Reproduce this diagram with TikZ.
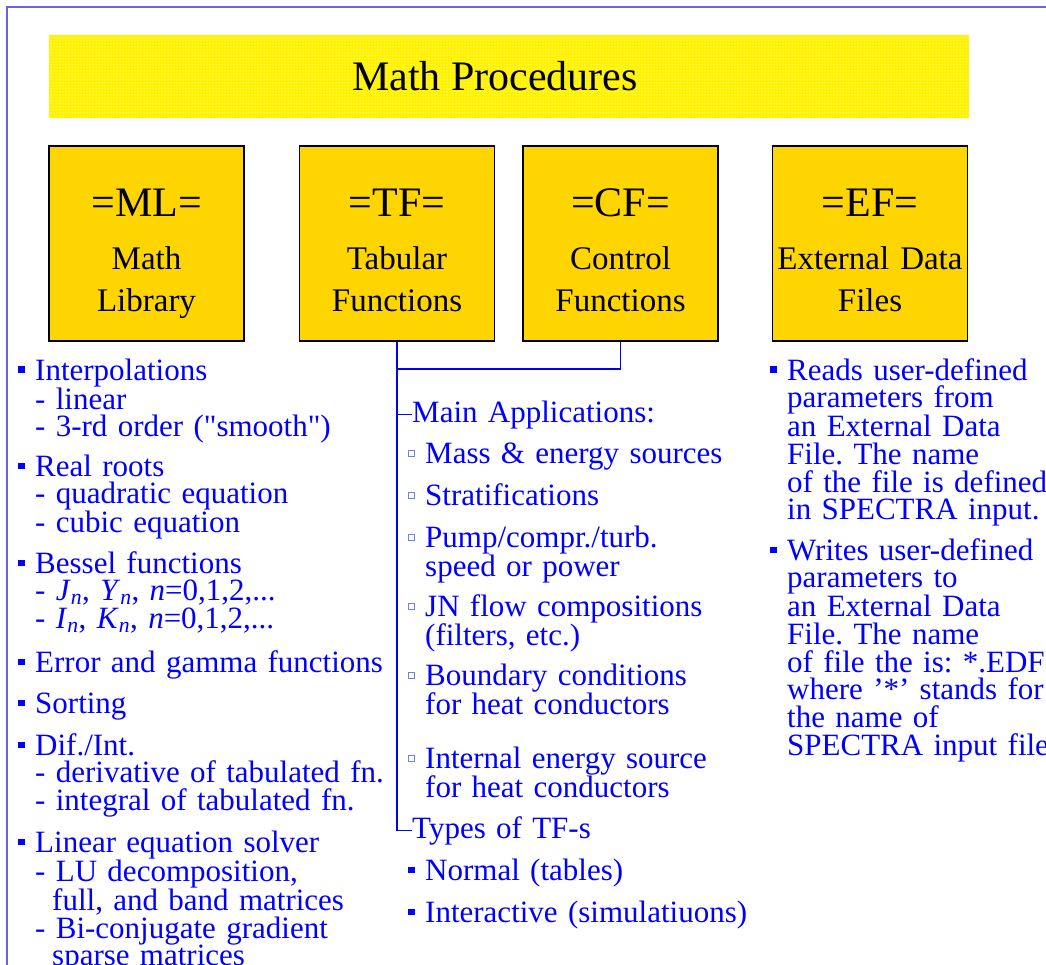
\documentclass[tikz,border=0pt]{standalone}
\usepackage{fontspec}
\setmainfont{Liberation Serif}
\newfontfamily\rawfont{Liberation Serif}
\usetikzlibrary{positioning,patterns}
\definecolor{framecol}{HTML}{6464E6}
\definecolor{boxgold}{HTML}{FFD500}
\definecolor{txtblue}{HTML}{0000FF}
\definecolor{hollowcol}{HTML}{6F7FE8}
\setlength{\lineskiplimit}{-30pt}
\frenchspacing
% bullets and indent for the item lists
\newcommand{\fsq}{\makebox[17pt][l]{\raisebox{7pt}{\rule{6.5pt}{6.5pt}}}}
\newcommand{\osq}{\makebox[17pt][l]{\raisebox{7pt}{\textcolor{hollowcol}{\setlength{\fboxsep}{0pt}\setlength{\fboxrule}{0.8pt}\fbox{\rule{0pt}{5pt}\rule{5pt}{0pt}}}}}}
\newcommand{\ind}{\hspace*{17pt}}
\newcommand{\dq}{{\rawfont\symbol{34}}}
\begin{document}
\begin{tikzpicture}[x=1pt, y=-1pt,
    banner/.style={fill=yellow, postaction={pattern=dots, pattern color=white},
      minimum width=920pt, minimum height=83pt, inner sep=0pt,
      text height=29pt, text depth=0pt, font=\fontsize{42}{42}\selectfont},
    box/.style={draw=black, line width=1.8pt, fill=boxgold, inner sep=0pt,
      minimum width=195pt, minimum height=195pt, text width=195pt, align=center,
      text height=30pt, text depth=83pt, font=\fontsize{33}{42}\selectfont},
    item/.style={anchor=base west, inner sep=0pt, text width=460pt, align=left,
      text=txtblue, font=\fontsize{31}{27.7}\selectfont},
    link/.style={draw=txtblue, line width=1.6pt}
  ]
    \useasboundingbox (0,0) rectangle (1046,965);
    \clip (0,0) rectangle (1046,965);
    % slide frame
    \draw[framecol, line width=1.5pt] (7,970) -- (7,7) -- (1050,7);
    % title and the four groups
    \node[banner] (title) at (509,76.5) {Math Procedures\hspace*{28pt}};
    \node[box] (ml) at (146.5,243.5) {{\fontsize{42}{42}\selectfont =ML=}\\[11pt]Math\\Library};
    \node[box] (tf) at (397,243.5)   {{\fontsize{42}{42}\selectfont =TF=}\\[11pt]Tabular\\Functions};
    \node[box] (cf) at (620.5,243.5) {{\fontsize{42}{42}\selectfont =CF=}\\[11pt]Control\\Functions};
    \node[box] (ef) at (870,243.5)   {{\fontsize{42}{42}\selectfont =EF=}\\[11pt]External Data\\Files};
    % Math Library
    \node[item] (interp) at (18,380) {\fsq Interpolations\\\ind - linear\\\ind - 3-rd order (\dq smooth\dq)};
    \node[item] (roots)  at (18,476) {\fsq Real roots\\\ind - quadratic equation\\\ind - cubic equation};
    \node[item] (bessel) at (18,573) {\fsq Bessel functions\\
      \ind - \textit{J}\textsubscript{\textit{n}}, \textit{Y}\textsubscript{\textit{n}}, \textit{n}=0,1,2,...\\
      \ind - \textit{I}\textsubscript{\textit{n}}, \textit{K}\textsubscript{\textit{n}}, \textit{n}=0,1,2,...};
    \node[item] (errf)   at (18,672) {\fsq Error and gamma functions};
    \node[item] (sort)   at (18,713) {\fsq Sorting};
    \node[item] (difint) at (18,755) {\fsq Dif./Int.\\\ind - derivative of tabulated fn.\\\ind - integral of tabulated fn.};
    \node[item] (linsol) at (18,852) {\fsq Linear equation solver\\\ind - LU decomposition,\\\hspace*{34pt}full, and band matrices\\
      \ind - Bi-conjugate gradient\\\hspace*{34pt}sparse matrices};
    % Tabular / Control Functions
    \node[item] (apps)   at (412,422) {Main Applications:};
    \node[item] (mass)   at (408,463) {\osq Mass \& energy sources};
    \node[item] (strat)  at (408,505) {\osq Stratifications};
    \node[item] (pump)   at (408,547) {\osq Pump/compr./turb.\\\ind speed or power};
    \node[item] (jnflow) at (408,616) {\osq JN flow compositions\\\ind (filters, etc.)};
    \node[item] (bound)  at (408,685) {\osq Boundary conditions\\\ind for heat conductors};
    \node[item] (intsrc) at (408,768) {\osq Internal energy source\\\ind for heat conductors};
    \node[item] (types)  at (412,838) {Types of TF-s};
    \node[item] (normal) at (408,880) {\fsq Normal (tables)};
    \node[item] (inter)  at (408,922) {\fsq Interactive (simulatiuons)};
    \coordinate (join) at (397,369);
    \draw[link] (tf.south) |- (types.west);
    \draw[link] (cf.south) |- (join);
    \draw[link] (join |- apps.west) -- (apps.west);
    % External Data Files
    \node[item] (reads)  at (770,380) {\fsq Reads user-defined\\\ind parameters from\\\ind an External Data\\\ind File. The name\\
      \ind of the file is defined\\\ind in SPECTRA input.};
    \node[item] (writes) at (770,560) {\fsq Writes user-defined\\\ind parameters to\\\ind an External Data\\\ind File. The name\\
      \ind of file the is: *.EDF\\\ind where '*' stands for\\\ind the name of\\\ind SPECTRA input file};
\end{tikzpicture}
\end{document}
